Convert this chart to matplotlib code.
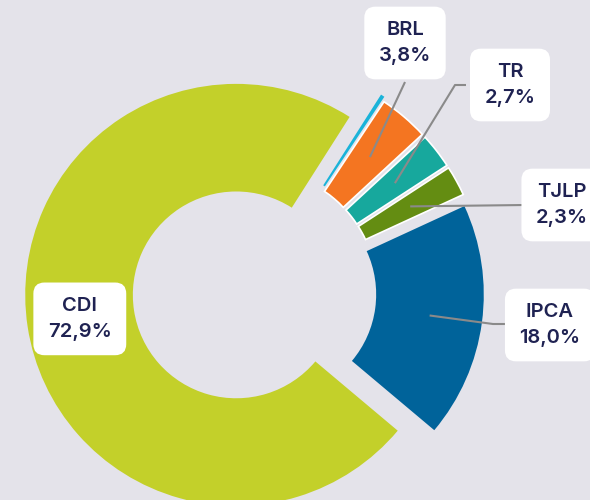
import numpy as np
import matplotlib.pyplot as plt

# data
labels = ['', 'BRL', 'TR', 'TJLP', 'IPCA', 'CDI']
values = [0.3, 3.8, 2.7, 2.3, 18.0, 72.9]
pct_text = ['', '3,8%', '2,7%', '2,3%', '18,0%', '72,9%']
colors = ['#1ab3d9', '#f47521', '#17a89d', '#648d12', '#00639a', '#c3d02a']

bg = '#e4e3ea'
txt_color = '#1f2252'
line_color = '#8a8a8a'

# figure pixel layout helpers (center of the pie at pixel 255,292, radius 211 px)
CX, CY, R = 255.0, 292.0, 211.0


def px(x, y):
    return ((x - CX) / R, (CY - y) / R)


fig = plt.figure(figsize=(5.9, 5.0), dpi=100)
fig.patch.set_facecolor(bg)
ax = fig.add_axes([0, 0, 1, 1])
ax.set_facecolor(bg)

explode = [0.11, 0.09, 0.09, 0.09, 0.085, 0.09]
wedges, _ = ax.pie(values, colors=colors, startangle=57.5, counterclock=False,
                   explode=explode, radius=1.0,
                   wedgeprops=dict(width=0.51, linewidth=0))
for w in wedges[1:4]:
    w.set_edgecolor('white')
    w.set_linewidth(1.2)


def anchor(w, r=0.75):
    mid = np.deg2rad((w.theta1 + w.theta2) / 2)
    cx, cy = w.center
    return cx + r * np.cos(mid), cy + r * np.sin(mid)


# label box centres and connector elbows (pixels)
box_pos = {1: (405, 43), 2: (510, 85), 3: (562, 205), 4: (550, 325), 5: None}
elbows = {1: [(405, 82)], 2: [(466, 85), (455, 85)], 3: [(525, 205)],
          4: [(507, 324), (493, 324)]}

font = dict(family=['Inter', 'DejaVu Sans'], weight=600, fontsize=14.5,
            color=txt_color, ha='center', va='center', linespacing=1.55)
box = dict(boxstyle='round,pad=0.72,rounding_size=0.55', fc='white', ec='none')

for i in range(1, 6):
    ax_, ay_ = anchor(wedges[i])
    if box_pos[i] is None:
        x, y = ax_, ay_
    else:
        x, y = px(*box_pos[i])
        pts = [px(*p) for p in elbows[i]] + [(ax_, ay_)]
        ax.plot([p[0] for p in pts], [p[1] for p in pts], color=line_color,
                lw=1.5, zorder=3, solid_capstyle='butt')
    ax.text(x, y, labels[i] + '\n' + pct_text[i], bbox=box, zorder=5, **font)

ax.set_xlim(-CX / R, (590 - CX) / R)
ax.set_ylim(-(500 - CY) / R, CY / R)
ax.set_aspect('equal')
ax.axis('off')

fig.savefig('out.png', dpi=100, facecolor=bg)
